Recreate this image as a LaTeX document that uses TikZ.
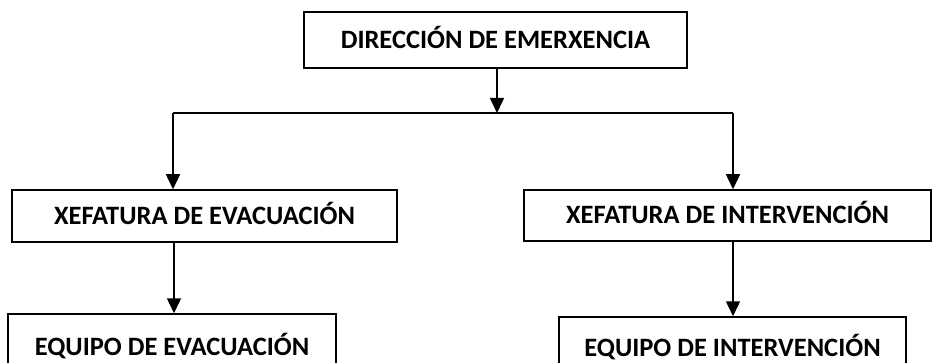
\documentclass[tikz,border=0pt]{standalone}
\usepackage{fontspec}
\setmainfont{Carlito}
\usetikzlibrary{arrows.meta}
\begin{document}
\begin{tikzpicture}[x=1pt,y=-1pt,
  box/.style={draw,line width=1.5pt,rectangle,inner sep=0pt,
    font=\fontsize{26.5}{30}\selectfont\bfseries,text height=17pt,text depth=0pt},
  conn/.style={line width=1.5pt},
  arr/.style={conn,-{Triangle[width=14pt,length=15pt]}}]
\useasboundingbox (0,0) rectangle (936,363);
\clip (0,0) rectangle (936,363);
\node[box,minimum width=383pt,minimum height=56pt] (dir) at (495.5,40) {DIRECCIÓN DE EMERXENCIA};
\node[box,minimum width=385pt,minimum height=52pt] (xev) at (204.5,216) {XEFATURA DE EVACUACIÓN};
\node[box,minimum width=407pt,minimum height=51pt] (xin) at (727.5,215.5) {XEFATURA DE INTERVENCIÓN};
\node[box,minimum width=328pt,minimum height=66pt] (eev) at (172,347) {EQUIPO DE EVACUACIÓN};
\node[box,minimum width=347pt,minimum height=62pt] (ein) at (732.5,348) {EQUIPO DE INTERVENCIÓN};
\coordinate (j) at (497,113);
\coordinate (jl) at (173,113);
\coordinate (jr) at (733,113);
\draw[arr] (dir.south -| j) -- (j);
\draw[conn] (jl) -- (jr);
\draw[arr] (jl) -- (xev.north -| jl);
\draw[arr] (jr) -- (xin.north -| jr);
\draw[arr] (xev.south -| 174,0) -- (eev.north -| 174,0);
\draw[arr] (xin.south -| jr) -- (ein.north -| jr);
\end{tikzpicture}
\end{document}
